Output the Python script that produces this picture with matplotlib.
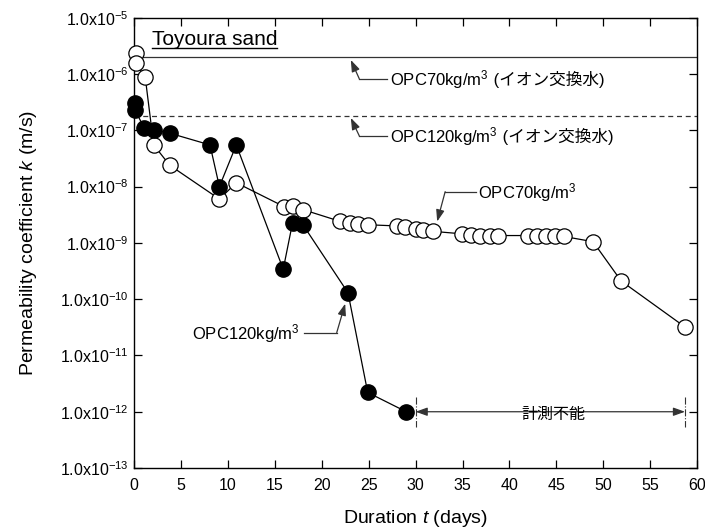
import matplotlib
matplotlib.use("Agg")
import matplotlib.pyplot as plt

plt.rcParams['font.family'] = ['Liberation Sans', 'Noto Sans CJK JP']
plt.rcParams['mathtext.fontset'] = 'custom'
plt.rcParams['mathtext.rm'] = 'Liberation Sans'
plt.rcParams['mathtext.it'] = 'Liberation Sans:italic'

# OPC70kg/m3 (open circles)
t_opc70 = [0.2, 0.2, 1.2, 2.1, 3.8, 9.1, 10.9, 16.0, 16.9, 18.0,
           22.0, 23.0, 23.9, 24.9, 28.0, 28.9, 30.0, 30.8, 31.9,
           34.9, 35.9, 36.9, 37.9, 38.8, 42.0, 42.9, 43.9, 44.9, 45.8,
           48.9, 51.9, 58.7]
k_opc70 = [2.4e-6, 1.55e-6, 8.8e-7, 5.5e-8, 2.4e-8, 6.0e-9, 1.17e-8, 4.4e-9, 4.6e-9, 3.9e-9,
           2.4e-9, 2.3e-9, 2.2e-9, 2.1e-9, 2.0e-9, 1.9e-9, 1.8e-9, 1.7e-9, 1.6e-9,
           1.45e-9, 1.4e-9, 1.35e-9, 1.35e-9, 1.35e-9, 1.35e-9, 1.35e-9, 1.35e-9, 1.35e-9, 1.3e-9,
           1.05e-9, 2.1e-10, 3.2e-11]

# OPC120kg/m3 (filled circles)
t_opc120 = [0.1, 0.1, 1.1, 2.1, 3.8, 8.1, 9.1, 10.9, 15.9, 16.9, 18.0, 22.8, 24.9, 29.0]
k_opc120 = [3.0e-7, 2.3e-7, 1.1e-7, 1.02e-7, 8.9e-8, 5.5e-8, 1.0e-8, 5.5e-8,
            3.4e-10, 2.3e-9, 2.1e-9, 1.3e-10, 2.2e-12, 1.0e-12]

# reference levels with ion-exchanged water
k_ref70 = 2.0e-6
k_ref120 = 1.8e-7

x_ticks = list(range(0, 61, 5))
y_exps = list(range(-13, -4))
y_ticks = [10.0 ** e for e in y_exps]
y_labels = ["1.0x10$^{%d}$" % e for e in y_exps]

fig = plt.figure(figsize=(7.05, 5.31), dpi=100)
ax = fig.add_axes([0.190, 0.1186, 0.799, 0.848])

ax.set_yscale('log')
ax.set_xlim(0, 60)
ax.set_ylim(1e-13, 1e-5)

# horizontal reference lines
ax.axhline(k_ref70, color='#333333', lw=0.9)
ax.axhline(k_ref120, color='#333333', lw=0.9, ls=(0, (4, 3)))

ax.plot(t_opc70, k_opc70, '-o', color='black', lw=0.9, ms=11,
        mfc='white', mec='black', mew=0.9, zorder=3, clip_on=False)
ax.plot(t_opc120, k_opc120, '-o', color='black', lw=0.9, ms=11,
        mfc='black', mec='black', zorder=4, clip_on=False)

ax.set_xticks(x_ticks)
ax.set_yticks(y_ticks)
ax.set_yticklabels(y_labels)
ax.minorticks_off()
ax.tick_params(direction='in', length=5.5, width=0.9, labelsize=11.5,
               top=True, right=True)
ax.tick_params(axis='x', pad=7)
ax.tick_params(axis='y', pad=4)
for s in ax.spines.values():
    s.set_linewidth(1.0)

ax.set_xlabel("Duration $t$ (days)", fontsize=14, labelpad=11)
ax.set_ylabel("Permeability coefficient $k$ (m/s)", fontsize=14, labelpad=15)

# Toyoura sand (underlined)
ts = ax.text(1.9, 10 ** -5.48, "Toyoura sand", fontsize=15, ha='left', va='baseline')
renderer = fig.canvas.get_renderer()
bb = ts.get_window_extent(renderer).transformed(ax.transData.inverted())
ax.plot([bb.x0, bb.x1], [10 ** -5.545, 10 ** -5.545], color='black', lw=1.0)

line_col = '#333333'
arrow_kw = dict(arrowstyle='-|>,head_length=0.7,head_width=0.25', color=line_col,
                lw=0.9, shrinkA=0, shrinkB=0)


def label(x, y, latin, jp=None, ha='left'):
    # latin part uses mathtext for the superscript, japanese part is appended on the same baseline
    t1 = ax.annotate(latin, xy=(x, y), xytext=(0, -4.6), textcoords='offset points',
                     fontsize=12, ha=ha, va='baseline')
    if jp:
        w = t1.get_window_extent(renderer).width * 72.0 / fig.dpi
        ax.annotate(jp, xy=(x, y), xytext=(w, -4.6), textcoords='offset points',
                    fontsize=12, ha='left', va='baseline')


def elbow_label(latin, jp, start, elbow, tip, text_x, ha='left'):
    ax.plot([start[0], elbow[0]], [start[1], elbow[1]], color=line_col, lw=0.9)
    ax.annotate("", xy=tip, xytext=elbow, arrowprops=arrow_kw)
    label(text_x, start[1], latin, jp, ha)


elbow_label("OPC70kg/m$^3$", " (イオン交換水)", (27.0, 10 ** -6.084), (24.0, 10 ** -6.084),
            (23.1, 10 ** -5.75), 27.3)
elbow_label("OPC120kg/m$^3$", " (イオン交換水)", (27.0, 10 ** -7.098), (24.0, 10 ** -7.098),
            (23.1, 10 ** -6.78), 27.3)
elbow_label("OPC70kg/m$^3$", None, (36.4, 10 ** -8.09), (33.15, 10 ** -8.09),
            (32.3, 10 ** -8.62), 36.7)
elbow_label("OPC120kg/m$^3$", None, (18.1, 10 ** -10.594), (21.6, 10 ** -10.594),
            (22.5, 10 ** -10.08), 17.7, ha='right')

# unmeasurable range
for tx in (30.0, 58.7):
    ax.plot([tx, tx], [10 ** -11.73, 10 ** -12.27], color=line_col, lw=0.8, ls='-.')
ax.annotate("", xy=(30.0, 1e-12), xytext=(58.7, 1e-12),
            arrowprops=dict(arrowstyle='<|-|>,head_length=0.7,head_width=0.25',
                            color=line_col, lw=0.9, shrinkA=0, shrinkB=0))
ax.text(44.7, 10 ** -12.04, "計測不能", fontsize=11.5, ha='center', va='center')

fig.savefig("out.png", dpi=100)
